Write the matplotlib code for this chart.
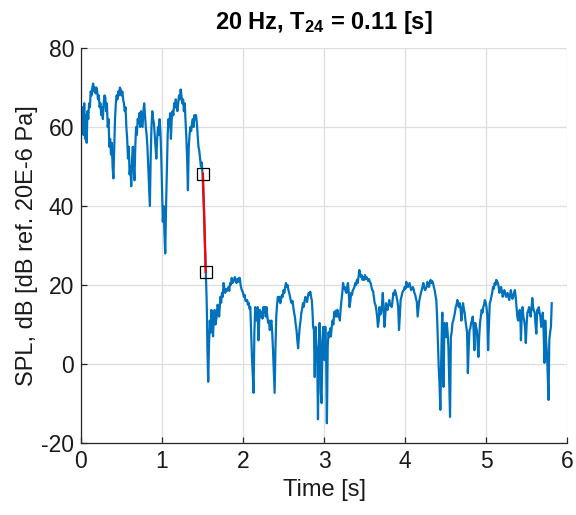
import matplotlib
matplotlib.use("Agg")
import matplotlib.pyplot as plt

plt.rcParams["font.family"] = ["Liberation Sans", "DejaVu Sans"]
plt.rcParams["mathtext.fontset"] = "custom"
plt.rcParams["mathtext.rm"] = "Liberation Sans"
plt.rcParams["mathtext.bf"] = "Liberation Sans:bold"
plt.rcParams["mathtext.it"] = "Liberation Sans:italic"
plt.rcParams["axes.unicode_minus"] = False

# Sound pressure level record before the source stops (0 - 1.54 s, 10 ms steps)
spl_on = [
    63, 60, 65, 58, 66, 57, 63, 56, 64, 62,
    66, 65, 69, 68, 70, 71, 69, 70, 68.5, 70,
    69, 67, 68, 65, 66, 63, 65, 62, 66, 68,
    67.5, 64, 66, 60, 62, 55, 57, 53, 56, 50,
    47, 55, 62, 66, 68, 67, 69, 68, 70, 69.5,
    68, 69, 67, 66, 64, 65, 60, 57, 52, 55,
    48, 50, 45, 52, 55, 50, 46.5, 55, 60, 58,
    62, 61, 63.5, 60, 64, 62, 60, 64, 66, 63,
    60, 58, 55, 50, 45, 40, 52, 60, 64, 62,
    61, 58, 55, 52, 57, 60, 58, 62, 59, 53,
    45, 36, 40, 33, 28, 40, 49, 58, 62, 60,
    63.5, 57, 62, 64, 63, 66, 65, 67, 65, 64,
    66, 68, 67, 69.5, 68, 66, 67, 64, 66, 62,
    57.5, 52, 44, 55, 58, 60, 59, 61, 62, 60,
    63, 62, 63, 61, 58, 55, 54, 52, 50, 51,
    48.2, 43, 38, 30, 23.3,
]
time_on = [round(0.01 * i, 3) for i in range(len(spl_on))]

# Decay and background noise after the source stops
time_off = [
    1.545, 1.55, 1.555, 1.56, 1.57, 1.58, 1.59, 1.60, 1.61, 1.62,
    1.63, 1.64, 1.65, 1.66, 1.675, 1.685, 1.695, 1.705, 1.72, 1.73,
    1.74, 1.75, 1.76, 1.77, 1.78, 1.79, 1.80, 1.82, 1.83, 1.84,
    1.85, 1.86, 1.87, 1.88, 1.89, 1.90, 1.91, 1.92, 1.93, 1.94,
    1.95, 1.96, 1.97, 1.98, 1.99, 2.00, 2.01, 2.02, 2.03, 2.05,
    2.06, 2.07, 2.08, 2.09, 2.10, 2.11, 2.12, 2.13, 2.14, 2.15,
    2.16, 2.17, 2.18, 2.19, 2.20, 2.21, 2.22, 2.23, 2.24, 2.25,
    2.26, 2.27, 2.28, 2.29, 2.30, 2.31, 2.32, 2.33, 2.34, 2.35,
    2.36, 2.37, 2.38, 2.39, 2.40, 2.41, 2.42, 2.43, 2.44, 2.45,
    2.46, 2.47, 2.48, 2.49, 2.50, 2.51, 2.52, 2.53, 2.54, 2.55,
    2.56, 2.57, 2.58, 2.59, 2.60, 2.61, 2.62, 2.63, 2.64, 2.65,
    2.66, 2.67, 2.68, 2.69, 2.70, 2.71, 2.72, 2.73, 2.74, 2.75,
    2.76, 2.77, 2.78, 2.79, 2.80, 2.81, 2.82, 2.83, 2.84, 2.85,
    2.86, 2.865, 2.875, 2.885, 2.895, 2.905, 2.915, 2.925, 2.935, 2.945,
    2.955, 2.96, 2.97, 2.98, 2.99, 3.00, 3.005, 3.015, 3.025, 3.035,
    3.045, 3.055, 3.065, 3.075, 3.085, 3.095, 3.105, 3.115, 3.125, 3.135,
    3.145, 3.155, 3.165, 3.175, 3.185, 3.195, 3.205, 3.215, 3.225, 3.235,
    3.245, 3.255, 3.265, 3.275, 3.285, 3.295, 3.305, 3.315, 3.325, 3.335,
    3.345, 3.355, 3.365, 3.375, 3.385, 3.395, 3.405, 3.415, 3.425, 3.435,
    3.445, 3.455, 3.465, 3.475, 3.485, 3.495, 3.505, 3.515, 3.525, 3.535,
    3.545, 3.555, 3.565, 3.575, 3.585, 3.595, 3.605, 3.615, 3.625, 3.635,
    3.645, 3.655, 3.665, 3.675, 3.685, 3.695, 3.705, 3.715, 3.725, 3.735,
    3.745, 3.755, 3.765, 3.775, 3.785, 3.795, 3.805, 3.815, 3.825, 3.835,
    3.845, 3.855, 3.865, 3.875, 3.885, 3.895, 3.905, 3.915, 3.925, 3.935,
    3.945, 3.955, 3.965, 3.975, 3.985, 3.995, 4.005, 4.015, 4.025, 4.035,
    4.045, 4.055, 4.065, 4.075, 4.085, 4.095, 4.105, 4.115, 4.125, 4.135,
    4.145, 4.155, 4.165, 4.175, 4.185, 4.195, 4.205, 4.215, 4.225, 4.235,
    4.245, 4.255, 4.265, 4.275, 4.285, 4.295, 4.305, 4.315, 4.325, 4.335,
    4.345, 4.355, 4.365, 4.375, 4.385, 4.395, 4.405, 4.415, 4.425, 4.435,
    4.445, 4.455, 4.46, 4.465, 4.475, 4.485, 4.495, 4.505, 4.515, 4.525,
    4.535, 4.545, 4.555, 4.565, 4.575, 4.585, 4.595, 4.605, 4.615, 4.625,
    4.635, 4.645, 4.655, 4.665, 4.675, 4.685, 4.695, 4.705, 4.715, 4.725,
    4.735, 4.745, 4.755, 4.765, 4.775, 4.785, 4.795, 4.805, 4.815, 4.825,
    4.835, 4.845, 4.855, 4.865, 4.875, 4.885, 4.895, 4.905, 4.915, 4.925,
    4.935, 4.945, 4.955, 4.965, 4.975, 4.985, 4.995, 5.005, 5.015, 5.025,
    5.035, 5.045, 5.055, 5.065, 5.075, 5.085, 5.095, 5.105, 5.115, 5.125,
    5.135, 5.145, 5.155, 5.165, 5.175, 5.185, 5.195, 5.205, 5.215, 5.225,
    5.235, 5.245, 5.255, 5.265, 5.275, 5.285, 5.295, 5.305, 5.315, 5.325,
    5.335, 5.345, 5.355, 5.365, 5.375, 5.385, 5.395, 5.405, 5.415, 5.425,
    5.43, 5.44, 5.45, 5.46, 5.47, 5.48, 5.49, 5.50, 5.51, 5.52,
    5.53, 5.54, 5.55, 5.56, 5.57, 5.58, 5.59, 5.60, 5.61, 5.62,
    5.63, 5.64, 5.65, 5.66, 5.67, 5.68, 5.69, 5.70, 5.71, 5.72,
    5.73, 5.74, 5.75, 5.76, 5.77, 5.78, 5.79, 5.80, 5.81,
]
spl_off = [
    20, 17, 12, 4.3, -4.5, 5, 11, 8, 13.7, 9,
    7, 12, 13.7, 10, 12, 15, 14.5, 12, 17, 15.5,
    18, 17, 20.5, 19, 18, 19, 18.5, 19.5, 18.5, 20.5,
    20, 21.8, 20.5, 20.8, 21.5, 22, 21, 20.5, 21.5, 20.8,
    21.8, 21.8, 20, 19, 18.5, 18, 17, 17.5, 16, 16.2,
    15, 15.5, 14, 14.4, 8, 1.8, -3, -7.3, 8, 14.4,
    12, 11, 14.4, 6, 11, 13.7, 12, 13, 11.5, 14.4,
    13, 14.4, 12, 14.4, 12, 10.4, 11, 8.6, 10, 11,
    8, 3.5, -2, -7.3, 4, 12, 15, 17, 16, 17,
    15.4, 16.5, 17.5, 17, 18.7, 18, 19.5, 20.5, 19.5, 20,
    18.7, 18, 17, 16, 15.4, 16, 14.4, 13, 12, 10,
    8.6, 6, 4, 7, 9.4, 11, 13, 14, 15.4, 14.5,
    16, 17, 16.5, 15.7, 17, 18, 17.5, 18.3, 17, 16,
    12, 9.4, 8.6, -3.3, 9.4, 5, 2.8, -14, 3.5, 10.4,
    2, -7.3, -9.9, 6, 9.4, 4, 1, 9.4, 3, -15,
    4.3, 8, 6.8, 9, 7, 9.4, 11, 10, 13.2, 12,
    13.5, 12, 13.7, 12, 12.5, 11, 14, 16.2, 18, 20.5,
    19, 19.5, 18.5, 18, 19.5, 20.5, 18, 14.4, 16, 18,
    17.5, 18.7, 19, 19.5, 20.5, 20, 21.3, 20.5, 22, 23.8,
    23, 22, 22.5, 21.3, 22, 21.3, 22.5, 21.5, 22, 21.5,
    21, 21.5, 20.8, 20.5, 19.5, 18.7, 18.5, 17, 15.4, 15,
    13.7, 12, 9.4, 11, 14.4, 12.5, 13, 15, 18, 14,
    9.4, 12, 15.4, 14, 13.7, 15, 16.2, 15, 14.8, 14.4,
    16, 18, 17.5, 18.7, 18, 17, 16, 14.4, 8.6, 12,
    16.2, 17, 18, 18.5, 18.7, 19.5, 19, 20.8, 20, 19.5,
    20, 20.5, 19.5, 18.7, 19, 19.5, 19, 18, 17.5, 16.5,
    15.7, 12, 14, 16, 17, 18, 18.7, 19.5, 20.5, 19.5,
    18.7, 19, 19.5, 20.8, 20, 19.5, 20.5, 21.3, 20.5, 21,
    20.5, 19.5, 18.7, 17.5, 16.2, 12, 6, -0.7, -5, -11.6,
    0.3, 10.4, 13, 6, -5.8, 10.4, 8, 6.8, 10.4, 8,
    4.3, -5, -13.4, 6.8, 8, 10.4, 11, 12, 13, 14.4,
    15, 16.2, 15, 14.4, 15.4, 14, 11, 13, 15.4, 14,
    13, 11, 9.4, 8, -2.3, 4, 8.6, 9, 10.4, 11,
    12, 9, 3.5, 10.4, 9.5, 8.6, 5, 1.8, 7, 10.4,
    12, 13.7, 13, 14.4, 15, 16.2, 15.5, 14.4, 12, 3.5,
    10, 15.4, 16, 17, 18, 19.5, 19, 20.5, 20, 21.3,
    21, 20.5, 19.5, 18, 18.5, 19.5, 18.5, 17, 18, 18.7,
    18, 17, 17.5, 18, 17, 16.2, 17.5, 18.7, 17.5, 16.5,
    17, 18, 18.7, 17, 14.4, 12, 11, 12.5, 13.7, 10,
    6, 12, 14.4, 12, 11, 9.4, 5.3, 10, 13, 13.5,
    14.4, 13, 12, 14, 16.7, 14.4, 13.5, 13, 10, 7.7,
    13.7, 13, 14.4, 13, 12, 9.4, 11, 13, 8, 0.3,
    11, 6, 3, -2.3, -9.1, 6, 8, 9.4, 15.4,
]

# Decay fit end points (start and end of the evaluated range)
decay_time = [1.505, 1.54]
decay_spl = [48.2, 23.3]

x_ticks = [0, 1, 2, 3, 4, 5, 6]
y_ticks = [-20, 0, 20, 40, 60, 80]

fig = plt.figure(figsize=(5.76, 5.15), dpi=100)
ax = fig.add_axes([0.1406, 0.1398, 0.844, 0.767])

ax.plot(time_on + time_off, spl_on + spl_off, color="#0072BD", lw=1.6,
        solid_joinstyle="round", zorder=2)
ax.plot(decay_time, decay_spl, color="#FF0000", lw=1.6, zorder=3)
ax.plot(decay_time, decay_spl, ls="none", marker="s", ms=8.5,
        mfc="none", mec="black", mew=0.9, zorder=4)

ax.set_xlim(0, 6)
ax.set_ylim(-20, 80)
ax.set_xticks(x_ticks)
ax.set_yticks(y_ticks)
ax.grid(True, color="#dedede", lw=0.9)
ax.set_axisbelow(True)
for side in ("top", "right"):
    ax.spines[side].set_visible(False)
for side in ("left", "bottom"):
    ax.spines[side].set_color("#262626")
    ax.spines[side].set_linewidth(0.9)
ax.tick_params(direction="in", length=4, width=0.9, colors="#262626",
               labelsize=16.5, labelcolor="#1a1a1a", pad=5)

ax.set_xlabel("Time [s]", fontsize=17, color="#1a1a1a", labelpad=4)
ax.set_ylabel("SPL, dB [dB ref. 20E-6 Pa]", fontsize=17, color="#1a1a1a",
              labelpad=2)
ax.set_title(r"20 Hz, $\mathbf{T}_{\mathbf{24}}$ = 0.11 [s]",
             fontsize=17, fontweight="bold", color="black", pad=14)

fig.savefig("out.png", dpi=100)
